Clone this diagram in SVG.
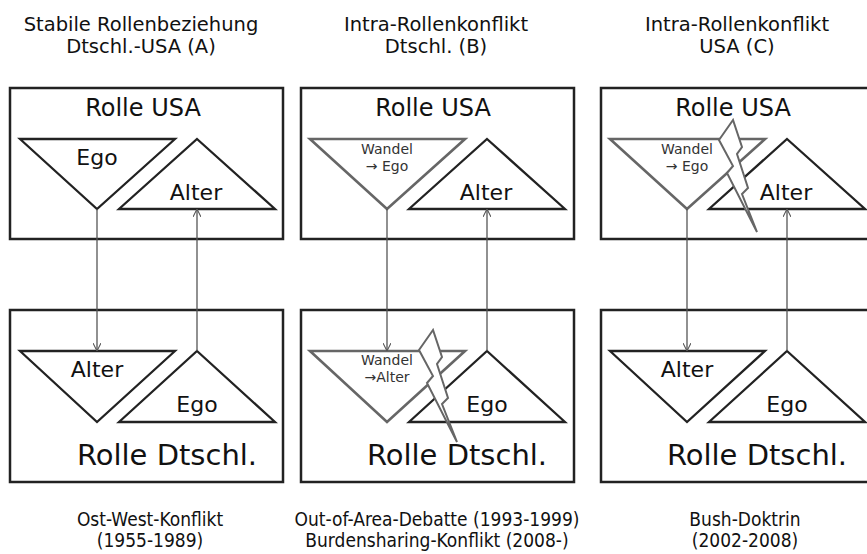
<svg xmlns="http://www.w3.org/2000/svg" width="867" height="554" viewBox="0 0 867 554">
<style>
.bg{fill:#fff}
.box{fill:#fff;stroke:#222;stroke-width:2.5}
.tri{fill:#fff;stroke:#222;stroke-width:2.3;stroke-linejoin:miter}
.tri.chg{stroke:#666;stroke-width:2.6}
.bolt{fill:#fff;stroke:#666;stroke-width:2;stroke-linejoin:miter}
.t{font-family:"DejaVu Sans","Verdana",sans-serif;fill:#111;text-anchor:middle}
.title{font-size:19.5px}
.role{font-size:24px}
.role2{font-size:29px}
.lbl{font-size:22px}
.sm{font-size:14px;fill:#333}
.cap{font-family:"DejaVu Sans Condensed","DejaVu Sans",sans-serif;font-stretch:condensed;font-size:19px;fill:#111;text-anchor:middle}
.con{stroke:#555;stroke-width:1.3;fill:none}
</style>
<defs>
<marker id="ah" viewBox="0 0 10 10" refX="10" refY="5" markerWidth="8" markerHeight="8" markerUnits="userSpaceOnUse" orient="auto">
<path d="M0,0 L10,5 L0,10" fill="none" stroke="#555" stroke-width="1.3"/>
</marker>
</defs>
<rect class="bg" x="0" y="0" width="867" height="554"/>

<!-- Titles -->
<g id="titles">
<text class="t title" x="141" y="31">Stabile Rollenbeziehung</text>
<text class="t title" x="141" y="53">Dtschl.-USA (A)</text>
<text class="t title" x="436" y="31">Intra-Rollenkonflikt</text>
<text class="t title" x="436" y="53">Dtschl. (B)</text>
<text class="t title" x="737" y="31">Intra-Rollenkonflikt</text>
<text class="t title" x="737" y="53">USA (C)</text>
</g>

<!-- Panel A -->
<g id="A-usa">
<rect class="box" x="10" y="88" width="273" height="151"/>
<text class="t role" x="143" y="116">Rolle USA</text>
<polygon class="tri" points="20,139 175,139 97,209"/>
<text class="t lbl" x="97" y="165">Ego</text>
<polygon class="tri" points="197,139 275,209 119,209"/>
<text class="t lbl" x="196" y="200">Alter</text>
</g>
<g id="A-de">
<rect class="box" x="10" y="310" width="273" height="172"/>
<polygon class="tri" points="20,351 175,351 97,422"/>
<text class="t lbl" x="97" y="377">Alter</text>
<polygon class="tri" points="197,351 275,422 119,422"/>
<text class="t lbl" x="197" y="412">Ego</text>
<text class="t role2" x="167" y="465">Rolle Dtschl.</text>
</g>

<!-- Panel B -->
<g id="B-usa">
<rect class="box" x="301" y="88" width="273" height="151"/>
<text class="t role" x="433" y="116">Rolle USA</text>
<polygon class="tri chg" points="310,139 465,139 387,209"/>
<text class="t sm" x="387" y="154">Wandel</text>
<text class="t sm" x="387" y="171">→ Ego</text>
<polygon class="tri" points="487,139 565,209 409,209"/>
<text class="t lbl" x="486" y="200">Alter</text>
</g>
<g id="B-de">
<rect class="box" x="301" y="310" width="273" height="172"/>
<polygon class="tri chg" points="310,351 465,351 387,422"/>
<text class="t sm" x="387" y="365">Wandel</text>
<text class="t sm" x="387" y="382">→Alter</text>
<polygon class="tri" points="487,351 565,422 409,422"/>
<text class="t lbl" x="487" y="412">Ego</text>
<text class="t role2" x="457" y="465">Rolle Dtschl.</text>
<polygon id="B-bolt" class="bolt" points="433,330 419,350 433,376 427,383 457,442 442,404 448,398 437,364 442,357"/>
</g>

<!-- Panel C -->
<g id="C-usa">
<rect class="box" x="601" y="88" width="273" height="151"/>
<text class="t role" x="733" y="116">Rolle USA</text>
<polygon class="tri chg" points="610,139 765,139 687,209"/>
<text class="t sm" x="687" y="154">Wandel</text>
<text class="t sm" x="687" y="171">→ Ego</text>
<polygon class="tri" points="787,139 865,209 709,209"/>
<text class="t lbl" x="786" y="200">Alter</text>
<polygon id="C-bolt" class="bolt" points="733,120 719,140 733,166 727,173 757,232 742,194 748,188 737,154 742,147"/>
</g>
<g id="C-de">
<rect class="box" x="601" y="310" width="273" height="172"/>
<polygon class="tri" points="610,351 765,351 687,422"/>
<text class="t lbl" x="687" y="377">Alter</text>
<polygon class="tri" points="787,351 865,422 709,422"/>
<text class="t lbl" x="787" y="412">Ego</text>
<text class="t role2" x="757" y="465">Rolle Dtschl.</text>
</g>

<!-- Connectors -->
<g id="connectors">
<line class="con" x1="97" y1="209" x2="97" y2="351" marker-end="url(#ah)"/>
<line class="con" x1="197" y1="351" x2="197" y2="209" marker-end="url(#ah)"/>
<line class="con" x1="387" y1="209" x2="387" y2="351" marker-end="url(#ah)"/>
<line class="con" x1="487" y1="351" x2="487" y2="209" marker-end="url(#ah)"/>
<line class="con" x1="687" y1="209" x2="687" y2="351" marker-end="url(#ah)"/>
<line class="con" x1="787" y1="351" x2="787" y2="209" marker-end="url(#ah)"/>
</g>

<!-- Captions -->
<g id="captions">
<text class="cap" x="150" y="526">Ost-West-Konflikt</text>
<text class="cap" x="150" y="547">(1955-1989)</text>
<text class="cap" x="437" y="526">Out-of-Area-Debatte (1993-1999)</text>
<text class="cap" x="437" y="547">Burdensharing-Konflikt (2008-)</text>
<text class="cap" x="745" y="526">Bush-Doktrin</text>
<text class="cap" x="745" y="547">(2002-2008)</text>
</g>
</svg>
